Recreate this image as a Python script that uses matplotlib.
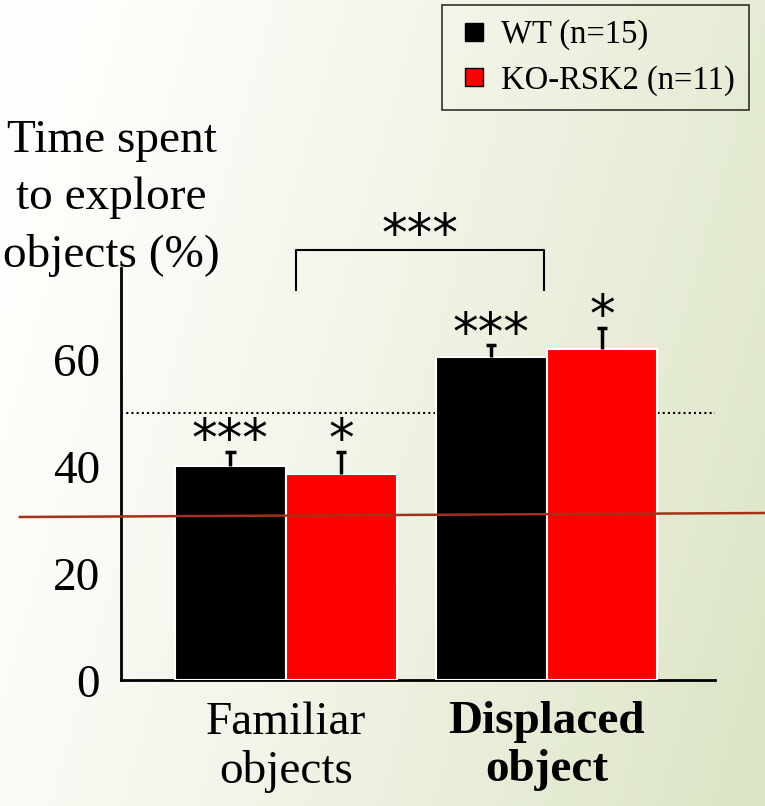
import numpy as np
import matplotlib.pyplot as plt
from matplotlib.lines import Line2D

# mean % exploration time and SEM per group
categories = ['Familiar\nobjects', 'Displaced\nobject']
wt_mean = [40.0, 60.4]
wt_sem = [2.7, 2.2]
ko_mean = [38.5, 62.0]
ko_sem = [4.2, 3.9]
wt_stars = ['***', '***']
ko_stars = ['*', '*']
legend_labels = ['WT (n=15)', 'KO-RSK2 (n=11)']
chance = 50
bracket_label = '***'

serif = 'Liberation Serif'
star_font = dict(fontsize=37, family='DejaVu Sans', ha='center',
                 va='baseline', clip_on=False)

fig = plt.figure(figsize=(7.65, 8.06), dpi=100)

# soft white-to-olive background
bg = fig.add_axes([0, 0, 1, 1], zorder=-10)
gx = np.linspace(0, 1, 256)
gy = np.linspace(0, 1, 256)
GX, GY = np.meshgrid(gx, gy)
t = np.clip(0.85 * GX + 0.25 * GY - 0.1, 0, 1) ** 1.2
c0 = np.array([0.995, 0.995, 0.985])
c1 = np.array([0.86, 0.895, 0.77])
img = c0[None, None, :] * (1 - t[..., None]) + c1[None, None, :] * t[..., None]
bg.imshow(img, aspect='auto', extent=[0, 1, 0, 1], origin='upper')
bg.axis('off')

ax = fig.add_axes([0.158, 0.156, 0.776, 0.511])
ax.patch.set_alpha(0)

x = np.arange(len(categories))
w = 0.425
ax.bar(x - w / 2, wt_mean, w, color='black', edgecolor='white', linewidth=1.5, zorder=3)
ax.bar(x + w / 2, ko_mean, w, color='red', edgecolor='white', linewidth=1.5, zorder=3)

# upper-only error bars: stem + cap
cap = 0.02
for xs, m, s in [(x - w / 2, wt_mean, wt_sem), (x + w / 2, ko_mean, ko_sem)]:
    tops = np.array(m) + np.array(s)
    ax.vlines(xs, m, tops, color='black', lw=2.5, zorder=4)
    ax.hlines(tops, xs - cap, xs + cap, color='black', lw=2.5, zorder=4)

# significance stars above each bar
off = -0.8
for i in range(len(categories)):
    ax.text(x[i] - w / 2, wt_mean[i] + wt_sem[i] + off, wt_stars[i], **star_font)
    ax.text(x[i] + w / 2, ko_mean[i] + ko_sem[i] + off, ko_stars[i], **star_font)

# chance level
ax.axhline(chance, color='black', ls=(0, (1, 1.5)), lw=1.5, zorder=2)

# comparison bracket between groups
bx = [0.038, 0.038, 0.992, 0.992]
by = [73, 80.4, 80.4, 73]
ax.plot(bx, by, color='black', lw=1.5, clip_on=False)
ax.text(np.mean(bx), 80.2, bracket_label, **star_font)

ax.set_xlim(-0.632, 1.644)
ax.set_ylim(0, 77)
ax.set_yticks([0, 20, 40, 60])
ax.set_xticks(x)
ax.set_xticklabels(categories, family=serif, fontsize=34, linespacing=1.18)
ax.get_xticklabels()[1].set_fontweight('bold')
ax.tick_params(axis='x', length=0, pad=15)
ax.tick_params(axis='y', length=0, pad=15, labelsize=34)
for lab in ax.get_yticklabels():
    lab.set_fontname(serif)

ax.spines['top'].set_visible(False)
ax.spines['right'].set_visible(False)
ax.spines['left'].set_linewidth(2)
ax.spines['bottom'].set_linewidth(2)
ax.spines['bottom'].set_zorder(1)

fig.text(0.146, 0.656, 'Time spent\nto explore\nobjects (%)', ha='center', va='bottom',
         family=serif, fontsize=34, linespacing=1.45)

# reference line drawn across the figure
fig.add_artist(Line2D([0.026, 1.0], [1 - 517 / 806, 1 - 513 / 806], color='#a3321a', lw=1.8))

handles = [Line2D([], [], ls='none', marker='s', markersize=13, markerfacecolor='black',
                  markeredgecolor='black', markeredgewidth=1),
           Line2D([], [], ls='none', marker='s', markersize=13, markerfacecolor='red',
                  markeredgecolor='black', markeredgewidth=1)]
leg = fig.legend(handles, legend_labels, loc='upper left', bbox_to_anchor=(0.578, 0.994),
                 prop={'family': serif, 'size': 23.5}, frameon=True, fancybox=False,
                 edgecolor='black', facecolor='none', handlelength=1.05,
                 handletextpad=0.3, borderpad=0.45, labelspacing=0.45, borderaxespad=0)
leg.get_frame().set_linewidth(1.2)

fig.savefig('out.png', dpi=100)
